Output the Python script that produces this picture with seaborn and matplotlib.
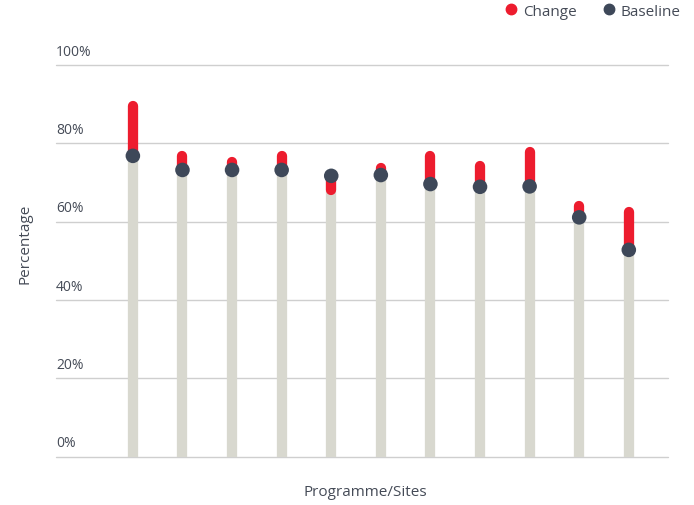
import numpy as np
import pandas as pd
import seaborn as sns
import matplotlib.pyplot as plt
from matplotlib.lines import Line2D

sites = ['Site 1', 'Site 2', 'Site 3', 'Site 4', 'Site 5', 'Site 6',
         'Site 7', 'Site 8', 'Site 9', 'Site 10', 'Site 11']
baseline = [76.8, 73.2, 73.2, 73.2, 71.7, 71.9, 69.6, 68.9, 69.0, 61.1, 52.8]
after = [89.6, 76.8, 75.2, 76.8, 68.1, 73.7, 76.7, 74.1, 77.9, 64.1, 62.4]
yticks = [0, 20, 40, 60, 80, 100]

df = pd.DataFrame({'site': sites, 'baseline': baseline, 'after': after})
df['pos'] = np.arange(len(df))

RED = '#ED1C2E'
DARK = '#3E4859'
GREY = '#D8D8CF'
TXT = '#454B57'

sns.set_theme(style='white')
plt.rcParams['font.family'] = ['Open Sans', 'DejaVu Sans']

fig = plt.figure(figsize=(6.94, 5.06), dpi=100)
ax = fig.add_axes([0.0807, 0.0955, 0.8818, 0.7741])

# gridlines + labels sitting on top of them
for t in yticks:
    ax.axhline(t, color='#CFCFCF', lw=1.0, zorder=0, clip_on=False)
    ax.text(0, t + 1.6, f'{t}%', transform=ax.get_yaxis_transform(),
            ha='left', va='bottom', fontsize=10, color=TXT)

# grey stem up to baseline, red segment for the change
for _, r in df.iterrows():
    ax.plot([r.pos, r.pos], [0, r.baseline], color=GREY, lw=7.4,
            solid_capstyle='round', zorder=1)
    ax.plot([r.pos, r.pos], [r.baseline, r.after], color=RED, lw=7.4,
            solid_capstyle='round', zorder=2)

sns.scatterplot(data=df, x='pos', y='baseline', ax=ax, color=DARK, s=110,
                edgecolor='none', zorder=3, legend=False)

ax.set_xlim(-1.55, 10.79)
ax.set_ylim(0, 100)
ax.set_xticks([])
ax.set_yticks([])
sns.despine(ax=ax, left=True, bottom=True)
ax.set_xlabel('')
ax.set_ylabel('')

fig.text(0.036, 0.518, 'Percentage', rotation=90, ha='center', va='center',
         fontsize=11, color=TXT)
fig.text(0.527, 0.027, 'Programme/Sites', ha='center', va='center',
         fontsize=11, color=TXT)

handles = [Line2D([], [], marker='o', ls='', color=RED, markersize=7.5),
           Line2D([], [], marker='o', ls='', color=DARK, markersize=7.5)]
leg = fig.legend(handles, ['Change', 'Baseline'], loc='upper right',
                 bbox_to_anchor=(1.0, 1.018), ncol=2, frameon=False,
                 fontsize=11, handletextpad=0.15, columnspacing=1.5,
                 handlelength=1.2)
for t in leg.get_texts():
    t.set_color(TXT)

fig.savefig('out.png', dpi=100)
